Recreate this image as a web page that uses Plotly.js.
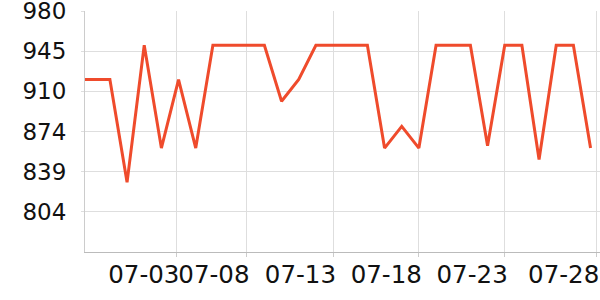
<!DOCTYPE html>
<html>
<head>
<meta charset="utf-8">
<script src="https://cdn.plot.ly/plotly-3.0.1.min.js"></script>
<style>html,body{margin:0;padding:0;background:#fff;}#chart{width:600px;height:300px;}</style>
</head>
<body>
<div id="chart"></div>
<script>
const dates = ["2024-06-28 13:12","2024-06-30","2024-07-01","2024-07-02","2024-07-03","2024-07-04","2024-07-05","2024-07-06","2024-07-07","2024-07-08","2024-07-09","2024-07-10","2024-07-11","2024-07-12","2024-07-13","2024-07-14","2024-07-15","2024-07-16","2024-07-17","2024-07-18","2024-07-19","2024-07-20","2024-07-21","2024-07-22","2024-07-23","2024-07-24","2024-07-25","2024-07-26","2024-07-27","2024-07-28"];
const values = [920,920,830,950,860,920,860,950,950,950,950,901,920,950,950,950,950,860,879,860,950,950,950,862,950,950,850,950,950,860];
const xTickVals = ["2024-07-03 21:00","2024-07-07 23:00","2024-07-13","2024-07-18","2024-07-23","2024-07-28 08:00"];
const xTickText = ["07-03","07-08","07-13","07-18","07-23","07-28"];
const yTickVals = [980,944.83,909.67,874.5,839.33,804.17];
const yTickText = ["980","945","910","874","839","804"];

Plotly.newPlot("chart",[{
  x: dates, y: values, type: "scatter", mode: "lines",
  line: {color: "#ef4b2c", width: 3},
  hoverinfo: "skip"
}],{
  width: 600, height: 300,
  margin: {l: 85, r: 0, t: 10.5, b: 47.5},
  paper_bgcolor: "#fff", plot_bgcolor: "#fff",
  showlegend: false,
  font: {family: "DejaVu Sans", size: 23, color: "#111"},
  xaxis: {
    type: "date",
    range: ["2024-06-28 13:12","2024-07-28 13:12"],
    tickmode: "array", tickvals: xTickVals, ticktext: xTickText,
    tickangle: 0,
    tickfont: {size: 24.5},
    ticklabelposition: "outside left",
    ticklabelshift: 4,
    ticklabelstandoff: 1,
    ticklabeloverflow: "allow",
    showgrid: true, gridcolor: "#dedede", gridwidth: 1,
    showline: true, linecolor: "#bbbbbb", linewidth: 1,
    ticks: "outside", ticklen: 4, tickcolor: "#cccccc",
    zeroline: false, fixedrange: true
  },
  yaxis: {
    range: [769, 980],
    tickmode: "array", tickvals: yTickVals, ticktext: yTickText,
    ticklabeloverflow: "allow",
    showgrid: true, gridcolor: "#dedede", gridwidth: 1,
    showline: true, linecolor: "#cccccc", linewidth: 1,
    ticks: "outside", ticklen: 3, tickcolor: "#dedede",
    ticklabelstandoff: 10,
    zeroline: false, fixedrange: true
  }
},{staticPlot: true, displayModeBar: false});
</script>
</body>
</html>
